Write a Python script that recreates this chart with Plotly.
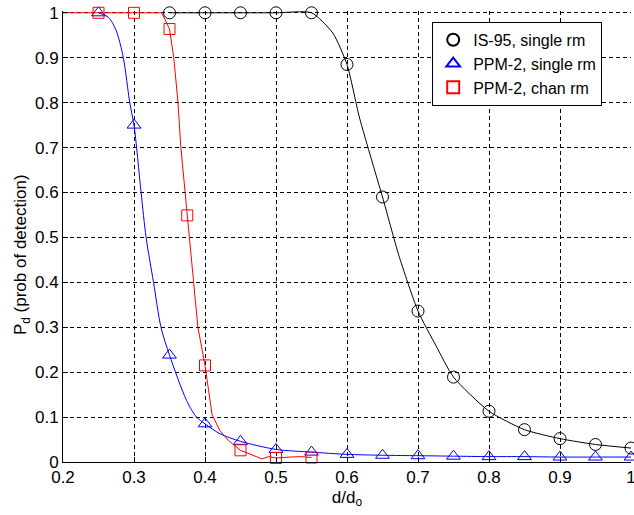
import plotly.graph_objects as go

# ---- data ----
x_ticks = [0.2, 0.3, 0.4, 0.5, 0.6, 0.7, 0.8, 0.9, 1.0]
x_ticklabels = ["0.2", "0.3", "0.4", "0.5", "0.6", "0.7", "0.8", "0.9", "1"]
y_ticks = [0, 0.1, 0.2, 0.3, 0.4, 0.5, 0.6, 0.7, 0.8, 0.9, 1.0]
y_ticklabels = ["0", "0.1", "0.2", "0.3", "0.4", "0.5", "0.6", "0.7", "0.8", "0.9", "1"]

# IS-95, single rm : markers
is95_x = [0.35, 0.40, 0.45, 0.50, 0.55, 0.60, 0.65, 0.70, 0.75, 0.80, 0.85, 0.90, 0.95, 1.00]
is95_y = [1.0, 1.0, 1.0, 1.0, 1.0, 0.885, 0.59, 0.336, 0.189, 0.113, 0.072, 0.052, 0.039, 0.031]
# IS-95 curve readings
is95_cx = [0.35, 0.40, 0.45, 0.50, 0.55, 0.58, 0.60, 0.617, 0.634, 0.65, 0.673, 0.70, 0.725, 0.75, 0.80, 0.85, 0.90, 0.95, 1.00]
is95_cy = [1.0, 1.0, 1.0, 1.0, 1.0, 0.955, 0.885, 0.77, 0.676, 0.59, 0.46, 0.336, 0.26, 0.189, 0.113, 0.072, 0.052, 0.039, 0.031]

# PPM-2, single rm : markers
ppm1_x = [0.25, 0.30, 0.35, 0.40, 0.45, 0.50, 0.55, 0.60, 0.65, 0.70, 0.75, 0.80, 0.85, 0.90, 0.95, 1.00]
ppm1_y = [1.0, 0.75, 0.238, 0.085, 0.046, 0.028, 0.022, 0.017, 0.015, 0.014, 0.013, 0.012, 0.012, 0.011, 0.011, 0.011]
# PPM-2, single rm curve readings
ppm1_cx = [0.25, 0.264, 0.275, 0.285, 0.294, 0.30, 0.31, 0.317, 0.3275, 0.338, 0.35, 0.374, 0.388, 0.40, 0.421, 0.45,
           0.50, 0.55, 0.60, 0.65, 0.70, 0.75, 0.80, 0.85, 0.90, 0.95, 1.00]
ppm1_cy = [1.0, 0.99, 0.96, 0.90, 0.80, 0.75, 0.60, 0.50, 0.40, 0.30, 0.238, 0.137, 0.10, 0.085, 0.063, 0.046,
           0.028, 0.022, 0.017, 0.015, 0.014, 0.013, 0.012, 0.012, 0.011, 0.011, 0.011]

# PPM-2, chan rm : markers
ppm2_x = [0.25, 0.30, 0.35, 0.375, 0.40, 0.45, 0.50, 0.55]
ppm2_y = [1.0, 1.0, 0.964, 0.549, 0.215, 0.026, 0.009, 0.010]
# PPM-2, chan rm curve readings
ppm2_cx = [0.20, 0.25, 0.30, 0.339, 0.35, 0.356, 0.362, 0.366, 0.372, 0.375, 0.3775, 0.3835, 0.39, 0.40, 0.41,
           0.421, 0.433, 0.45, 0.463, 0.48, 0.49, 0.50, 0.52, 0.535, 0.55]
ppm2_cy = [1.0, 1.0, 1.0, 1.0, 0.964, 0.90, 0.80, 0.70, 0.60, 0.549, 0.50, 0.40, 0.30, 0.215, 0.105,
           0.07, 0.048, 0.026, 0.017, 0.007, 0.012, 0.009, 0.011, 0.012, 0.010]

FONT = "Liberation Sans, Arial, sans-serif"

fig = go.Figure()

# curves
fig.add_trace(go.Scatter(x=is95_cx, y=is95_cy, mode="lines", line=dict(color="black", width=1, shape="spline", smoothing=0.6),
                         showlegend=False, hoverinfo="skip"))
fig.add_trace(go.Scatter(x=ppm1_cx, y=ppm1_cy, mode="lines", line=dict(color="#0000FF", width=1, shape="spline", smoothing=0.8),
                         showlegend=False, hoverinfo="skip"))
fig.add_trace(go.Scatter(x=ppm2_cx, y=ppm2_cy, mode="lines", line=dict(color="#FF0000", width=1),
                         showlegend=False, hoverinfo="skip"))

# markers
fig.add_trace(go.Scatter(x=is95_x, y=is95_y, mode="markers", name="IS-95, single rm",
                         marker=dict(symbol="circle-open", size=12, color="black", line=dict(width=1)),
                         cliponaxis=False))
fig.add_trace(go.Scatter(x=ppm1_x, y=ppm1_y, mode="markers", name="PPM-2, single rm",
                         marker=dict(symbol="triangle-up-open", size=12, color="#0000FF", line=dict(width=1)),
                         cliponaxis=False))
fig.add_trace(go.Scatter(x=ppm2_x, y=ppm2_y, mode="markers", name="PPM-2, chan rm",
                         marker=dict(symbol="square-open", size=11, color="#FF0000", line=dict(width=1)),
                         cliponaxis=False))

fig.update_layout(
    width=634, height=515,
    margin=dict(l=63, r=3, t=11, b=53, autoexpand=False),
    paper_bgcolor="white", plot_bgcolor="white",
    font=dict(family=FONT, size=17, color="black"),
    showlegend=True,
    legend=dict(x=0.65, y=0.976, xanchor="left", yanchor="top",
                bgcolor="white", bordercolor="black", borderwidth=1,
                font=dict(family=FONT, size=16, color="black"),
                itemsizing="constant"),
    annotations=[dict(text="P<sub>d</sub> (prob of detection)", textangle=-90,
                      xref="paper", yref="paper", x=-0.072, y=0.459,
                      xanchor="center", yanchor="middle", showarrow=False,
                      font=dict(family=FONT, size=17, color="black"))],
)

fig.update_xaxes(
    range=[0.2, 1.0], tickvals=x_ticks, ticktext=x_ticklabels, ticklabeloverflow="allow",
    showgrid=True, gridcolor="black", gridwidth=1, griddash="4px,3px",
    showline=True, linecolor="black", linewidth=1, mirror=False,
    ticks="inside", ticklen=5, tickcolor="black", zeroline=False,
    title=dict(text="d/d<sub>o</sub>", font=dict(family=FONT, size=17), standoff=4),
)
fig.update_yaxes(
    range=[0, 1.004], tickvals=y_ticks, ticktext=y_ticklabels,
    showgrid=True, gridcolor="black", gridwidth=1, griddash="4px,3px",
    showline=True, linecolor="black", linewidth=1, mirror=False,
    ticks="inside", ticklen=5, tickcolor="black", zeroline=False,
)

fig.write_html("out.html", config={"displayModeBar": False},
               post_script="document.body.style.margin='0px';document.body.style.padding='0px';")
